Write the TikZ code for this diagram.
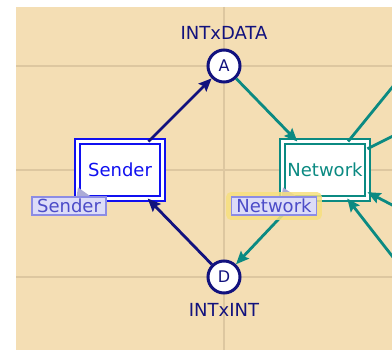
\documentclass[tikz,border=0pt]{standalone}
\usepackage{fontspec}
\setmainfont{DejaVu Sans}
\usetikzlibrary{arrows.meta,positioning,calc}
\definecolor{wheatbg}{HTML}{F4DEB4}
\definecolor{gridtan}{HTML}{DDC7A0}
\definecolor{placenavy}{HTML}{12127E}
\definecolor{sendblue}{HTML}{1010F0}
\definecolor{netteal}{HTML}{0B8A82}
\definecolor{tagfill}{HTML}{DCDCF8}
\definecolor{tagedge}{HTML}{8C8CE4}
\definecolor{tagink}{HTML}{4C4CC8}
\definecolor{tagpin}{HTML}{ABABD6}
\definecolor{glow}{HTML}{F7E07E}

\begin{document}
\begin{tikzpicture}[
  x=1pt, y=-1pt,
  font=\fontsize{18}{20}\selectfont,
  place/.style={circle, draw=placenavy, line width=3pt, fill=white, minimum size=32pt, inner sep=0pt, text=placenavy, font=\fontsize{16}{18}\selectfont},
  trans/.style={rectangle, fill=white, line width=2.5pt, double=white, double distance=2.4pt, minimum width=85pt, minimum height=57pt, inner sep=0pt, outer sep=0pt},
  tag/.style={draw=tagedge, fill=tagfill, text=tagink, line width=1.2pt, minimum height=18pt, inner xsep=5pt, inner ysep=0pt},
  arc/.style={line width=2.8pt, -{Stealth[length=13pt,width=11pt,inset=2pt]}},
]

\useasboundingbox (0,0) rectangle (392,350);
\clip (16,7) rectangle (392,350);
\fill[wheatbg] (16,7) rectangle (392,350);

% grid
\draw[gridtan, line width=2pt] (16,66) -- (392,66) (16,170) -- (392,170) (16,277) -- (392,277);
\draw[gridtan, line width=2pt] (224,7) -- (224,350);

% places and transitions
\node[place] (a) at (224,66) {A};
\node[place] (d) at (224,277) {D};
\node[trans, draw=sendblue, text=sendblue] (sender) at (120,170) {Sender};
\node[trans, draw=netteal, text=netteal] (network) at (325,170) {Network};

\node[text=placenavy, above=9pt of a, inner sep=0pt] (atype) {INTxDATA};
\node[text=placenavy, below=9pt of d, inner sep=0pt] (dtype) {INTxINT};

% off-screen ends
\coordinate (out1) at (460,4);
\coordinate (out2) at (465,100);
\coordinate (in1) at (460,343);
\coordinate (in2) at (465,243);

\draw[arc, placenavy] (sender) -- (a);
\draw[arc, placenavy] (d) -- (sender);
\draw[arc, netteal] (a) -- (network);
\draw[arc, netteal] (network) -- (d);
\draw[arc, netteal] (network) -- (out1);
\draw[arc, netteal] (network) -- (out2);
\draw[arc, netteal] (in1) -- (network);
\draw[arc, netteal] (in2) -- (network);

% name tags
\fill[tagpin] ($(sender.south west)+(0.5,-11)$) -- ($(sender.south west)+(-1,-1.5)$) -- ($(sender.south west)+(14,-1.5)$) -- cycle;
\fill[tagpin] ($(network.south west)+(0.5,-11)$) -- ($(network.south west)+(-1,-1.5)$) -- ($(network.south west)+(15,-1.5)$) -- cycle;
\node[tag] (sendertag) at ($(sender)+(-51,36)$) {Sender};
\node[tag, preaction={draw=glow, line width=10pt, line join=round, opacity=0.85}] (networktag) at ($(network)+(-51,36)$) {Network};

\end{tikzpicture}
\end{document}
